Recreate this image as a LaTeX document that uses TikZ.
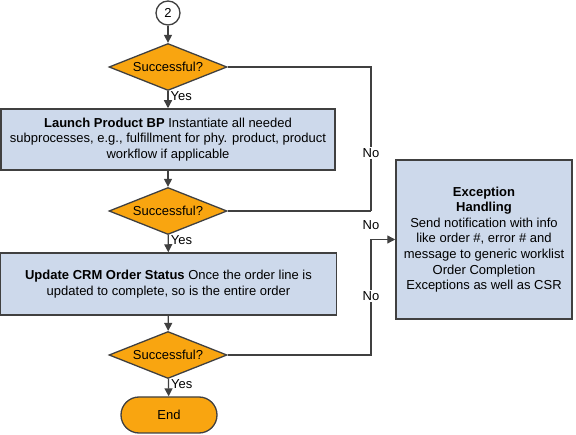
\documentclass[tikz,border=0pt]{standalone}
\usepackage{fontspec}
\setmainfont{Liberation Sans}
\usetikzlibrary{shapes.geometric}
\usetikzlibrary{arrows.meta}

\definecolor{flowline}{HTML}{404040}
\definecolor{floworange}{HTML}{F9A510}
\definecolor{flowblue}{HTML}{CDD9EB}

\begin{document}
\begin{tikzpicture}[x=1pt, y=-1pt,
		every node/.style={font=\fontsize{13}{15.6}\selectfont, text=black},
		line/.style={draw=flowline, line width=1.3pt},
		arrow/.style={line, -{Triangle[length=8pt,width=8pt]}},
		decision/.style={diamond, draw=flowline, line width=1.3pt, fill=floworange, inner sep=0pt, aspect=2.5, minimum width=118pt, minimum height=47pt},
		task/.style={rectangle, draw=flowline, line width=1.5pt, fill=flowblue, align=center},
		answer/.style={fill=white, inner sep=1pt}]
			\useasboundingbox (0,0) rectangle (576,435);
			\node [circle, draw=flowline, line width=1.3pt, fill=white, minimum size=24pt, inner sep=0pt] (conn) at (168, 13) {2};
			\node [decision] (ok1) at (168, 67) {Successful?};
			\node [task, minimum width=334pt, minimum height=61pt] (launch) at (168, 139.5) {\textbf{Launch Product BP} Instantiate all needed\\subprocesses, e.g., fulfillment for phy. product, product\\workflow if applicable};
			\node [decision] (ok2) at (168, 211) {Successful?};
			\node [task, minimum width=336pt, minimum height=62pt] (update) at (168.5, 284) {\textbf{Update CRM Order Status} Once the order line is\\updated to complete, so is the entire order};
			\node [decision] (ok3) at (168, 355) {Successful?};
			\node [rectangle, rounded corners=18pt, draw=flowline, line width=1.3pt, fill=floworange, minimum width=96pt, minimum height=36pt] (finish) at (169, 415) {End};
			\node [task, minimum width=176pt, minimum height=159pt] (except) at (484, 239.5) {\textbf{Exception}\\\textbf{Handling}\\Send notification with info\\like order \#, error \# and\\message to generic worklist\\Order Completion\\Exceptions as well as CSR};
			% main flow
			\draw [arrow] (conn) -- (ok1);
			\draw [arrow] (ok1) -- node [right, pos=0.3, inner sep=2pt] {Yes} (launch);
			\draw [arrow] (launch) -- (ok2);
			\draw [arrow] (ok2) -- node [right, pos=0.3, inner sep=2pt] {Yes} (update);
			\draw [arrow] (update) -- (ok3);
			\draw [arrow] (ok3) -- node [right, pos=0.3, inner sep=2pt] {Yes} (finish);
			% failure branches
			\node [answer] (no1) at (371, 153) {No};
			\node [answer] (no2) at (371, 225) {No};
			\node [answer] (no3) at (371, 296) {No};
			\coordinate (jtop) at (371, 211);
			\coordinate (jbot) at (371, 239.5);
			\draw [line] (ok1.east) -| (no1.north);
			\draw [line] (no1.south) -- (jtop);
			\draw [line] (ok2.east) -- (jtop);
			\draw [line] (ok3.east) -| (no3.south);
			\draw [line] (no3.north) -- (jbot);
			\draw [arrow] (jbot) -- (except.west);
	\end{tikzpicture}
\end{document}
